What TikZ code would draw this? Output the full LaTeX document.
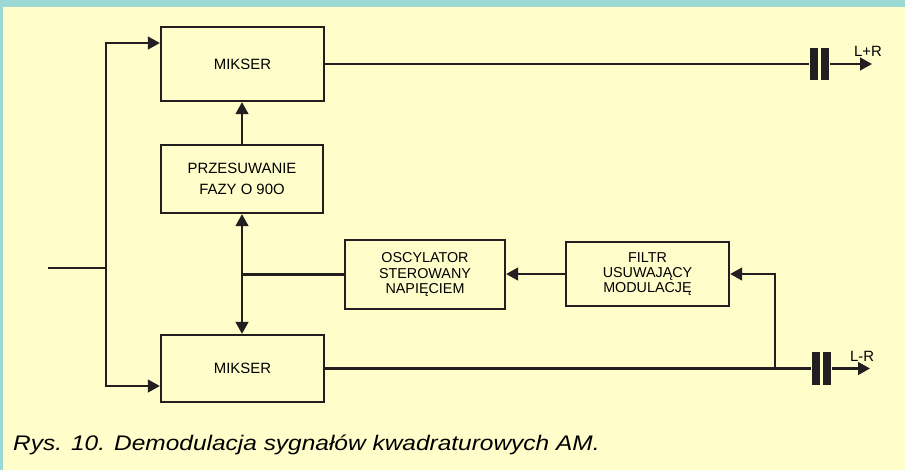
\documentclass[tikz,border=0pt]{standalone}
\usepackage{fontspec}
\setmainfont{Liberation Sans}
\usetikzlibrary{arrows.meta}
\definecolor{tlo}{HTML}{FFFDC9}
\definecolor{ramka}{HTML}{9CD9D5}
\definecolor{linia}{HTML}{231F20}
\tikzset{
  blok/.style={draw=linia, line width=1.6pt, align=center, font=\fontsize{10.6pt}{12pt}\selectfont, inner sep=0pt},
  strz/.style={-{Triangle[length=8.5pt,width=9pt]}},
  okladka/.style={fill=linia, inner sep=0pt, minimum width=0.2cm, minimum height=0.82cm},
  opis/.style={font=\fontsize{10.6pt}{12pt}\selectfont, inner sep=0pt}
}
\begin{document}
\begin{tikzpicture}[x=0.025cm, y=-0.025cm, line width=1.6pt, draw=linia]
\fill[tlo] (0,0) rectangle (905,470);
\fill[ramka] (0,0) rectangle (905,7);
\fill[ramka] (0,0) rectangle (3,470);
\node[blok, minimum width=4.075cm, minimum height=1.85cm] (mix1) at (242.5,64) {MIKSER};
\node[blok, minimum width=4.05cm, minimum height=1.7cm, font=\fontsize{10.6pt}{15pt}\selectfont] (przes) at (242,179) {PRZESUWANIE\\FAZY O 90O};
\node[blok, minimum width=4cm, minimum height=1.725cm, font=\fontsize{10.2pt}{10.7pt}\selectfont] (osc) at (425,274.5) {OSCYLATOR\\STEROWANY\\NAPIĘCIEM};
\node[blok, minimum width=4.075cm, minimum height=1.6cm, font=\fontsize{10.2pt}{10.7pt}\selectfont] (filtr) at (647.5,274) {FILTR\\USUWAJĄCY\\MODULACJĘ};
\node[blok, minimum width=4.075cm, minimum height=1.675cm] (mix2) at (242.5,368.5) {MIKSER};
\coordinate (wej) at (48,268);
\coordinate (rozg) at (106,268);
\draw (wej) -- (rozg);
\draw[strz] (rozg) |- (mix1.west |- 0,43);
\draw[strz] (rozg) |- (mix2.west |- 0,386);
\draw[strz] (przes) -- (przes |- mix1.south);
\draw[{Triangle[length=8.5pt,width=9pt]}-{Triangle[length=8.5pt,width=9pt]}] (przes.south) -- (przes.south |- mix2.north);
\draw (przes.south |- osc.west) -- (osc.west);
\draw[strz] (filtr.west) -- (filtr.west -| osc.east);
\node[okladka] (k1a) at (814,64) {};
\node[okladka] (k1b) at (825,64) {};
\coordinate (wy1) at (872,64);
\draw (mix1.east) -- (k1a);
\draw[strz] (k1b) -- (wy1);
\node[opis] (lr1) at (868,51) {L+R};
\node[okladka] (k2a) at (816,368.5) {};
\node[okladka] (k2b) at (827,368.5) {};
\coordinate (wy2) at (870,368.5);
\draw (mix2.east) -- (k2a);
\draw[strz] (k2b) -- (wy2);
\node[opis] (lr2) at (862,356) {L-R};
\coordinate (odg) at (775,368.5);
\draw[strz] (odg) |- (filtr.east);
\node[anchor=base west, inner sep=0pt, font=\fontsize{15pt}{18pt}\itshape] (podpis) at (12,450) {\scalebox{1.16}[1]{Rys. 10. Demodulacja sygnałów kwadraturowych AM.}};
\end{tikzpicture}
\end{document}
